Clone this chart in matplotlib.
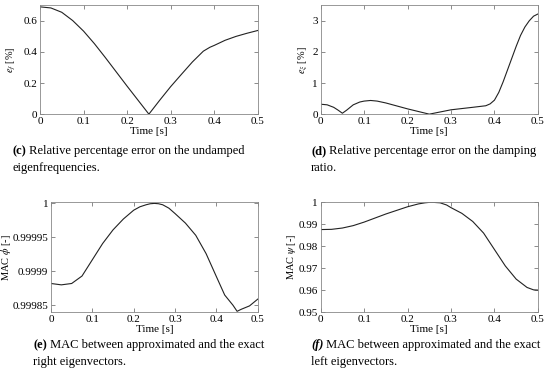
import matplotlib
matplotlib.use("Agg")
import matplotlib.pyplot as plt
from matplotlib.text import Annotation

plt.rcParams["font.family"] = ["Liberation Serif", "DejaVu Serif"]
plt.rcParams["mathtext.fontset"] = "stix"

# (c) relative error on undamped eigenfrequencies
t_c = [0, 0.025, 0.05, 0.075, 0.1, 0.125, 0.15, 0.175, 0.2, 0.225, 0.25,
       0.275, 0.3, 0.325, 0.35, 0.375, 0.39, 0.4, 0.425, 0.45, 0.475, 0.5]
e_f = [0.69, 0.683, 0.655, 0.602, 0.534, 0.453, 0.364, 0.272, 0.18, 0.09, 0.0,
       0.09, 0.177, 0.257, 0.336, 0.405, 0.43, 0.442, 0.475, 0.5, 0.52, 0.538]

# (d) relative error on damping ratio
t_d = [0, 0.015, 0.03, 0.04, 0.05, 0.06, 0.075, 0.09, 0.1, 0.115, 0.13, 0.15,
       0.2, 0.25, 0.3, 0.35, 0.38, 0.39, 0.4, 0.41, 0.42, 0.43, 0.44, 0.45,
       0.46, 0.47, 0.48, 0.49, 0.5]
e_xi = [0.32, 0.3, 0.22, 0.13, 0.03, 0.13, 0.3, 0.39, 0.42, 0.44, 0.42, 0.36,
        0.17, 0.0, 0.14, 0.22, 0.27, 0.33, 0.45, 0.7, 1.04, 1.42, 1.8, 2.18,
        2.53, 2.8, 3.0, 3.15, 3.22]

# (e) MAC right eigenvectors
t_e = [0, 0.025, 0.05, 0.075, 0.1, 0.125, 0.15, 0.175, 0.2, 0.215, 0.23,
       0.24, 0.25, 0.26, 0.27, 0.285, 0.3, 0.325, 0.35, 0.375, 0.4, 0.42,
       0.44, 0.45, 0.46, 0.48, 0.5]
mac_phi = [0.999882, 0.99988, 0.999882, 0.999893, 0.999917, 0.999941,
           0.999961, 0.999977, 0.99999, 0.999995, 0.999998, 0.9999995, 1.0,
           0.9999995, 0.999998, 0.999993, 0.999985, 0.999971, 0.999953,
           0.999926, 0.999892, 0.999865, 0.99985, 0.999841, 0.999844,
           0.999849, 0.999859]

# (f) MAC left eigenvectors
t_f = [0, 0.025, 0.05, 0.075, 0.1, 0.15, 0.2, 0.225, 0.24, 0.25, 0.26, 0.275,
       0.29, 0.3, 0.325, 0.35, 0.375, 0.4, 0.425, 0.45, 0.475, 0.49, 0.5]
mac_psi = [0.9876, 0.9877, 0.9883, 0.9894, 0.991, 0.9947, 0.998, 0.9993,
           0.9998, 1.0, 1.0, 0.9998, 0.9988, 0.9976, 0.995, 0.9913, 0.986,
           0.9785, 0.971, 0.965, 0.9612, 0.9601, 0.96]

xticks = [0, 0.1, 0.2, 0.3, 0.4, 0.5]
xticklabels = ["0", "0.1", "0.2", "0.3", "0.4", "0.5"]

fig = plt.figure(figsize=(5.5, 3.78), dpi=100)


def panel(rect, t, y, ylim, yticks, yticklabels, ylabel, labx):
    ax = fig.add_axes(rect)
    ax.plot(t, y, color="#222222", lw=0.8)
    ax.set_xlim(0, 0.5)
    ax.set_ylim(*ylim)
    ax.set_xticks(xticks)
    ax.set_xticklabels(xticklabels)
    ax.set_yticks(yticks)
    ax.set_yticklabels(yticklabels)
    ax.tick_params(direction="in", top=True, right=True, length=3,
                   width=0.6, color="#777777", labelsize=8, pad=2)
    for s in ax.spines.values():
        s.set_color("#888888")
        s.set_linewidth(0.6)
    ax.set_xlabel("Time [s]", fontsize=8, labelpad=1)
    ax.set_ylabel(ylabel, fontsize=7.5)
    ax.yaxis.set_label_coords(labx, 0.5)
    return ax


panel([0.0727, 0.698, 0.396, 0.288], t_c, e_f, (0, 0.7),
      [0, 0.2, 0.4, 0.6], ["0", "0.2", "0.4", "0.6"], r"$e_f$ [%]", -0.10)
panel([0.583, 0.698, 0.395, 0.288], t_d, e_xi, (0, 3.5),
      [0, 1, 2, 3], ["0", "1", "2", "3"], r"$e_\xi$ [%]", -0.05)
panel([0.0927, 0.1746, 0.376, 0.290], t_e, mac_phi, (0.99984, 1.0000015),
      [0.99985, 0.9999, 0.99995, 1.0],
      ["0.99985", "0.9999", "0.99995", "1"], r"MAC $\phi$ [-]", -0.185)
panel([0.583, 0.1746, 0.395, 0.290], t_f, mac_psi, (0.95, 1.0),
      [0.95, 0.96, 0.97, 0.98, 0.99, 1.0],
      ["0.95", "0.96", "0.97", "0.98", "0.99", "1"], r"MAC $\psi$ [-]", -0.105)

captions = [
    (12, 154, "(c)", "Relative percentage error on the undamped", "eigenfrequencies.", False),
    (311, 154, "(d)", "Relative percentage error on the damping", "ratio.", False),
    (33, 348, "(e)", "MAC between approximated and the exact", "right eigenvectors.", False),
    (311, 348, "(f)", "MAC between approximated and the exact", "left eigenvectors.", True),
]

fs = 9.0
for x, y, tag, l1, l2, it in captions:
    t = fig.text(x / 550, 1 - y / 378, tag, fontsize=fs, fontweight="bold",
                 style="italic" if it else "normal", va="baseline")
    a = Annotation(" " + l1, xy=(1, 0), xycoords=t, va="bottom", fontsize=fs)
    fig.add_artist(a)
    fig.text(x / 550, 1 - (y + 17) / 378, l2, fontsize=fs, va="baseline")

fig.savefig("out.png", dpi=100)
